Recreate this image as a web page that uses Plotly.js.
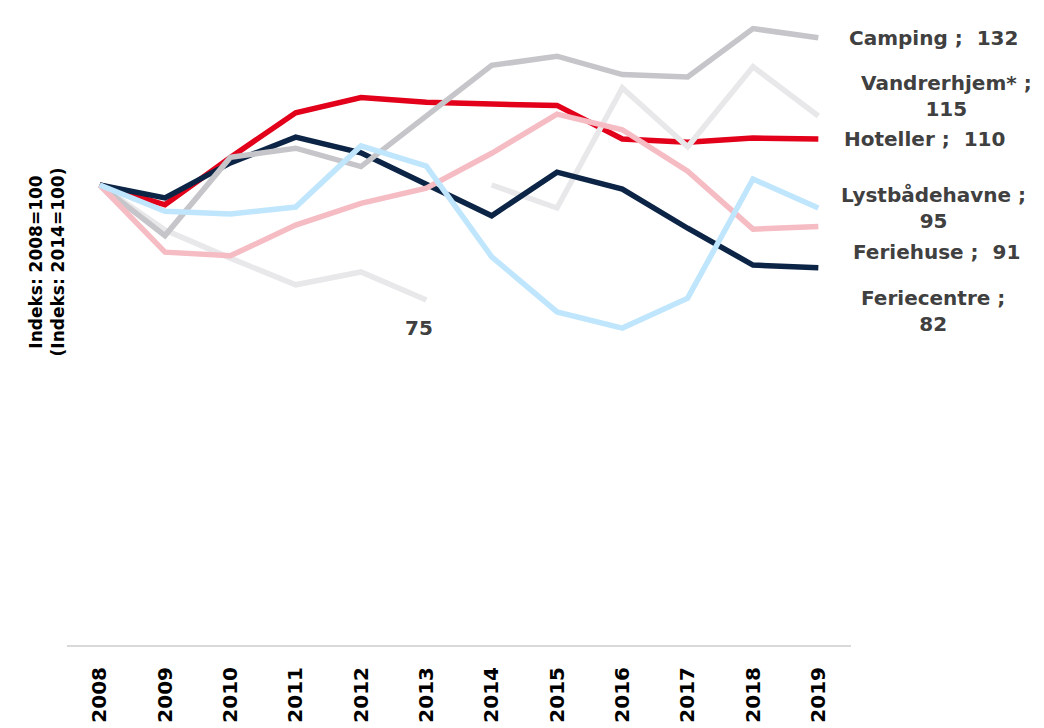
<!DOCTYPE html>
<html>
<head>
<meta charset="utf-8">
<script src="https://cdn.plot.ly/plotly-3.0.1.min.js"></script>
<style>
  html, body { margin: 0; padding: 0; background: #fff; }
  #chart { width: 1044px; height: 728px; }
</style>
</head>
<body>
<div id="chart"></div>
<script>
// Index values (2008=100, Vandrerhjem from 2014 is 2014=100)
const years = ["2008", "2009", "2010", "2011", "2012", "2013", "2014", "2015", "2016", "2017", "2018", "2019"];
const camping = [100, 89, 106, 108, 104, 115, 126, 128, 124, 123.5, 134, 132];
const hoteller = [100, 95.7, 106, 115.7, 119, 118, 117.6, 117.3, 110, 109.3, 110.2, 110];
const feriecentre = [100, 97.2, 104.8, 110.4, 107, 100, 93.3, 102.8, 99.1, 90.6, 82.6, 82];
const lystbaadehavne = [100, 94.3, 93.7, 95.2, 108.5, 104.1, 84.4, 72.4, 68.9, 75.4, 101.3, 95];
const feriehuse = [100, 85.4, 84.6, 91.3, 96, 99.3, 106.9, 115.4, 112, 103, 90.4, 91];
const vandrerhjemOld = [100, 90.2, 84.1, 78.3, 81.1, 75, null, null, null, null, null, null];
const vandrerhjemNew = [null, null, null, null, null, null, 100, 95, 121.1, 108.3, 125.7, 115];

const FONT = "DejaVu Sans, sans-serif";
const LABEL_COLOR = "#404040";

function line(y, color, name) {
  return {
    x: years, y: y, name: name,
    type: "scatter", mode: "lines",
    line: { color: color, width: 5.5 },
    connectgaps: false,
    hoverinfo: "skip"
  };
}

const traces = [
  line(vandrerhjemOld, "#e8e8ea", "Vandrerhjem 2008"),
  line(hoteller, "#e2001a", "Hoteller"),
  line(vandrerhjemNew, "#e8e8ea", "Vandrerhjem*"),
  line(feriecentre, "#0c2445", "Feriecentre"),
  line(camping, "#c6c6ca", "Camping"),
  line(feriehuse, "#f6bcc4", "Feriehuse"),
  line(lystbaadehavne, "#bfe6fc", "Lystbådehavne")
];

// category axes take the index as position for annotations
const last = years.length - 1;
function endLabel(text, values, xshift, yshift) {
  return {
    x: last, y: values[last], xref: "x", yref: "y",
    text: text, showarrow: false, align: "center",
    xanchor: "center", yanchor: "middle",
    xshift: xshift, yshift: yshift,
    font: { family: FONT, size: 20, color: LABEL_COLOR, weight: "bold" }
  };
}

const annotations = [
  endLabel("Camping ;  132", camping, 115, 0),
  endLabel("Vandrerhjem* ;<br>115", vandrerhjemNew, 128, 20),
  endLabel("Hoteller ;  110", hoteller, 106, 0),
  endLabel("Lystbådehavne ;<br>95", lystbaadehavne, 115, 0),
  endLabel("Feriehuse ;  91", feriehuse, 118, -26),
  endLabel("Feriecentre ;<br>82", feriecentre, 115, -43),
  {
    x: 5, y: vandrerhjemOld[5], xref: "x", yref: "y",
    text: "75", showarrow: false, xshift: -7, yshift: -28,
    xanchor: "center", yanchor: "middle",
    font: { family: FONT, size: 20, color: LABEL_COLOR, weight: "bold" }
  },
  {
    xref: "paper", yref: "paper", x: -0.026, y: 0.595,
    xanchor: "center", yanchor: "middle",
    text: "Indeks: 2008=100<br>(Indeks: 2014=100)",
    textangle: -90, showarrow: false, align: "center",
    font: { family: FONT, size: 17, color: "#000", weight: "bold" }
  }
];

const layout = {
  width: 1044, height: 728,
  margin: { l: 67, r: 193, t: 1, b: 83 },
  showlegend: false,
  paper_bgcolor: "#fff",
  plot_bgcolor: "#fff",
  xaxis: {
    type: "category",
    range: [-0.5, 11.5],
    showgrid: false, zeroline: false,
    showline: true, linecolor: "#d9d9d9", linewidth: 2,
    ticks: "", tickangle: -90,
    ticklabelstandoff: 12,
    tickfont: { family: FONT, size: 20, color: "#000", weight: "bold" }
  },
  yaxis: {
    range: [0, 140],
    showgrid: false, zeroline: false, showline: false,
    showticklabels: false, ticks: ""
  },
  annotations: annotations
};

Plotly.newPlot("chart", traces, layout, { displayModeBar: false, staticPlot: true });
</script>
</body>
</html>
